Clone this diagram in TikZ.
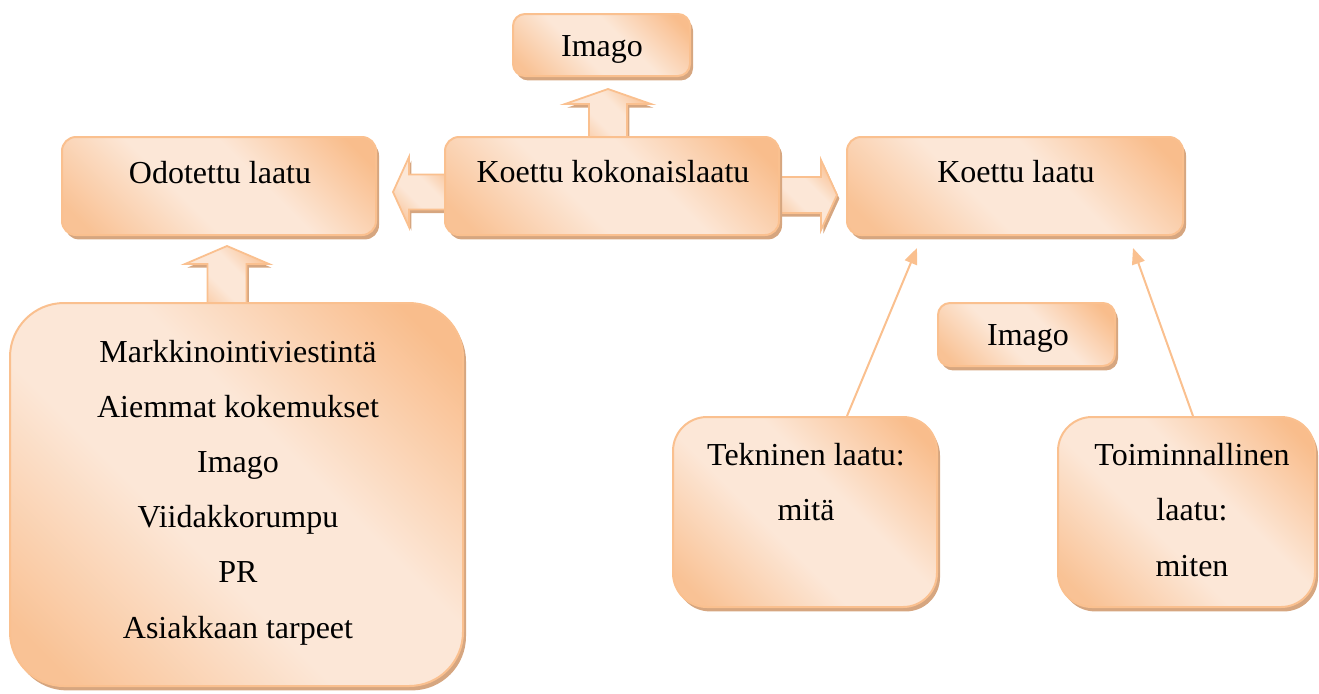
\documentclass[tikz,border=0pt]{standalone}
\usepackage{fontspec}
\setmainfont{Liberation Serif}
\usetikzlibrary{calc,shadows,arrows.meta}
\definecolor{pdark}{RGB}{249,189,140}
\definecolor{pmid}{RGB}{249,194,149}
\definecolor{plight}{RGB}{252,231,215}
\definecolor{pborder}{RGB}{250,192,143}
\definecolor{pshadow}{RGB}{214,166,128}
\pgfdeclarehorizontalshading{peach}{100bp}{color(0bp)=(pmid); color(20bp)=(pmid); color(42bp)=(plight); color(58bp)=(plight); color(80bp)=(pdark); color(100bp)=(pdark)}
\pgfdeclarelayer{bg}
\pgfsetlayers{bg,main}
\tikzset{
  box/.style={rectangle, draw=pborder, line width=1pt, shade, shading=peach, shading angle=45,
    general shadow={shadow xshift=1.5pt, shadow yshift=-2.2pt, fill=pshadow}, inner sep=0pt},
  blockarrow/.style={draw=pborder, line width=0.9pt, shade, shading=peach, shading angle=45,
    general shadow={shadow xshift=1.2pt, shadow yshift=-1.8pt, fill=pshadow}},
  thinarrow/.style={draw=pborder, line width=1pt, -{Triangle[length=8pt,width=6.5pt]}},
  txt/.style={anchor=base, inner sep=0pt, font=\fontsize{16}{20}\selectfont}
}
\begin{document}
\begin{tikzpicture}[x=0.5pt,y=0.5pt]
\path[use as bounding box] (0,0) rectangle (1319,-693);

% boxes
\node[box, rounded corners=6pt, minimum width=88.5pt, minimum height=31pt] (img1) at (601.5,-45) {};
\node[box, rounded corners=7pt, minimum width=157pt, minimum height=49pt] (odo) at (219,-186) {};
\node[box, rounded corners=7pt, minimum width=167pt, minimum height=49pt] (kk) at (612,-186) {};
\node[box, rounded corners=7pt, minimum width=168pt, minimum height=49pt] (kl) at (1015,-186) {};
\node[box, rounded corners=27pt, minimum width=226.5pt, minimum height=191.5pt] (big) at (236.5,-494.5) {};
\node[box, rounded corners=6pt, minimum width=88.5pt, minimum height=31.5pt] (img2) at (1026.5,-334.5) {};
\node[box, rounded corners=17pt, minimum width=132pt, minimum height=95pt] (tek) at (805,-512) {};
\node[box, rounded corners=17pt, minimum width=128.5pt, minimum height=95pt] (tox) at (1186.5,-512) {};

% texts
\node[txt] (timg1) at (602,-56) {Imago};
\node[txt] (todo) at (220,-183) {Odotettu laatu};
\node[txt] (tkk) at (613,-182) {Koettu kokonaislaatu};
\node[txt] (tkl) at (1016,-182) {Koettu laatu};
\node[txt] (tb1) at (238,-362) {Markkinointiviestintä};
\node[txt] (tb2) at (238,-417) {Aiemmat kokemukset};
\node[txt] (tb3) at (238,-472) {Imago};
\node[txt] (tb4) at (238,-527) {Viidakkorumpu};
\node[txt] (tb5) at (238,-582) {PR};
\node[txt] (tb6) at (238,-638) {Asiakkaan tarpeet};
\node[txt] (timg2) at (1028,-345) {Imago};
\node[txt] (ttek1) at (806,-465) {Tekninen laatu:};
\node[txt] (ttek2) at (806,-520) {mitä};
\node[txt] (ttox1) at (1192,-465) {Toiminnallinen};
\node[txt] (ttox2) at (1192,-520) {laatu:};
\node[txt] (ttox3) at (1192,-576) {miten};

% block arrows
\coordinate (b1) at ($(kk.north)+(-4,-5)$);
\coordinate (t1) at ($(b1|-img1.south)+(0,-12)$);
\coordinate (t2) at ($(odo.south)+(8,-10)$);
\coordinate (b2) at ($(t2|-big.north)+(0,-5)$);
\coordinate (t3) at ($(odo.east)+(16,-6)$);
\coordinate (b3) at ($(t3-|kk.west)+(5,0)$);
\coordinate (t4) at ($(kl.west)+(-9,-9)$);
\coordinate (b4) at ($(t4-|kk.east)+(-5,0)$);
\begin{pgfonlayer}{bg}
\path[blockarrow] ($(b1)+(-19,0)$) -- ($(t1)+(-19,-15)$) -- ($(t1)+(-43,-15)$) -- (t1)
  -- ($(t1)+(43,-15)$) -- ($(t1)+(19,-15)$) -- ($(b1)+(19,0)$) -- cycle;
\path[blockarrow] ($(b2)+(-19.5,0)$) -- ($(t2)+(-19.5,-18)$) -- ($(t2)+(-42,-18)$) -- (t2)
  -- ($(t2)+(42,-18)$) -- ($(t2)+(19.5,-18)$) -- ($(b2)+(19.5,0)$) -- cycle;
\path[blockarrow] ($(b3)+(0,17.5)$) -- ($(t3)+(16,17.5)$) -- ($(t3)+(16,35)$) -- (t3)
  -- ($(t3)+(16,-35)$) -- ($(t3)+(16,-17.5)$) -- ($(b3)+(0,-17.5)$) -- cycle;
\path[blockarrow] ($(b4)+(0,18)$) -- ($(t4)+(-16,18)$) -- ($(t4)+(-16,35)$) -- (t4)
  -- ($(t4)+(-16,-35)$) -- ($(t4)+(-16,-18)$) -- ($(b4)+(0,-18)$) -- cycle;
\end{pgfonlayer}

% thin arrows
\draw[thinarrow] ($(tek.north west)+(175,0)$) -- ($(kl.south west)+(71,-12)$);
\draw[thinarrow] ($(tox.north west)+(136,0)$) -- ($(kl.south east)+(-51,-12)$);
\end{tikzpicture}
\end{document}
